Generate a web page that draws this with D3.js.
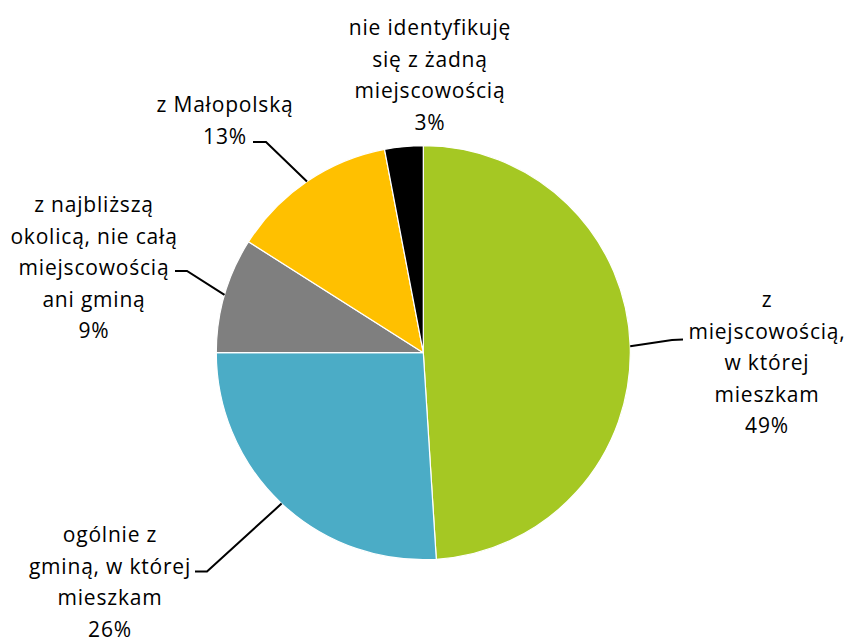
<!DOCTYPE html>
<html>
<head>
<meta charset="utf-8">
<script src="https://cdn.jsdelivr.net/npm/d3@7"></script>
<style>
  html, body { margin: 0; padding: 0; background: #fff; }
  svg { display: block; }
  text { font-family: "Open Sans", "DejaVu Sans", sans-serif; font-size: 21px; fill: #000; letter-spacing: 0.8px; }
</style>
</head>
<body>
<svg id="chart" width="849" height="637"></svg>
<script>
// ---- data ----
const categories = [
  "z miejscowością, w której mieszkam",
  "ogólnie z gminą, w której mieszkam",
  "z najbliższą okolicą, nie całą miejscowością ani gminą",
  "z Małopolską",
  "nie identyfikuję się z żadną miejscowością"
];
const values = [49, 26, 9, 13, 3];
const colors = ["#a5c823", "#4bacc6", "#7f7f7f", "#ffc000", "#000000"];
const labelLines = [
  ["z", "miejscowością,", "w której", "mieszkam"],
  ["ogólnie z", "gminą, w której", "mieszkam"],
  ["z najbliższą", "okolicą, nie całą", "miejscowością", "ani gminą"],
  ["z Małopolską"],
  ["nie identyfikuję", "się z żadną", "miejscowością"]
];

// ---- layout ----
const cx = 423.3, cy = 352.7, r = 207;
const lineH = 31.5;
// label block: center x, first baseline, leader end (at label) and elbow
const labelLayout = [
  { x: 767, y: 307, end: [683, 339.5], elbow: [672, 340] },
  { x: 110, y: 542, end: [195, 571.5], elbow: [207, 571.5] },
  { x: 94,  y: 212, end: [175, 271],  elbow: [187, 271] },
  { x: 225, y: 112, end: [253, 142],  elbow: [266, 142] },
  { x: 430, y: 35,  end: null, elbow: null }
];

const data = categories.map((c, i) => ({ cat: c, value: values[i], color: colors[i], lines: labelLines[i], layout: labelLayout[i] }));

const svg = d3.select("#chart");
const g = svg.append("g").attr("transform", `translate(${cx},${cy})`);

const pie = d3.pie().value(d => d.value).sort(null).startAngle(0).endAngle(2 * Math.PI);
const arcs = pie(data);
const arc = d3.arc().innerRadius(0).outerRadius(r);
const edgeArc = d3.arc().innerRadius(r).outerRadius(r);

g.selectAll("path.slice")
  .data(arcs)
  .join("path")
  .attr("class", "slice")
  .attr("d", arc)
  .attr("fill", d => d.data.color)
  .attr("stroke", "#fff")
  .attr("stroke-width", 1.2)
  .attr("stroke-linejoin", "round");

// leader lines
arcs.forEach(a => {
  const L = a.data.layout;
  if (!L.end) return;
  const p = edgeArc.centroid(a);
  const start = [cx + p[0], cy + p[1]];
  svg.append("polyline")
    .attr("points", [start, L.elbow, L.end].map(q => q.join(",")).join(" "))
    .attr("fill", "none")
    .attr("stroke", "#000")
    .attr("stroke-width", 2);
});

// labels
arcs.forEach(a => {
  const L = a.data.layout;
  const t = svg.append("text").attr("text-anchor", "middle");
  const lines = a.data.lines.concat([d3.format(".0f")(a.data.value) + "%"]);
  lines.forEach((ln, i) => {
    t.append("tspan").attr("x", L.x).attr("y", L.y + i * lineH).text(ln);
  });
});
</script>
</body>
</html>
